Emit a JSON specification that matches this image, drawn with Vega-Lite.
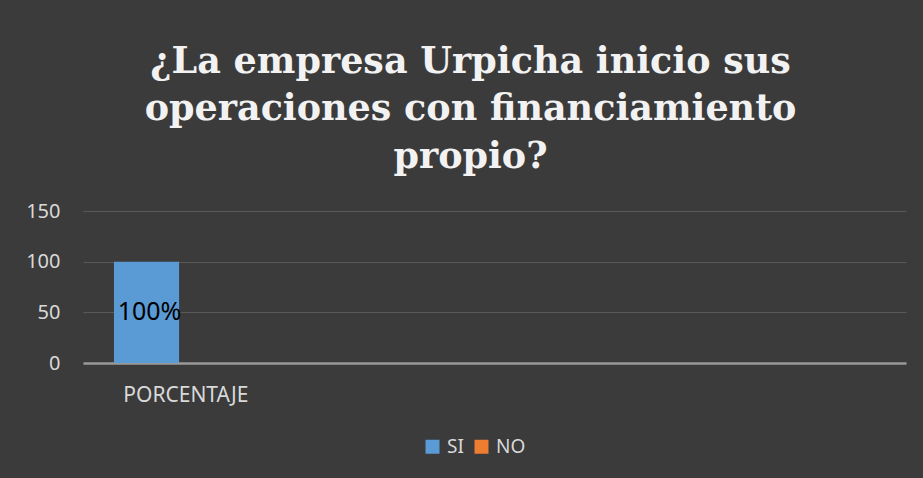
{
  "$schema": "https://vega.github.io/schema/vega-lite/v6.json",
  "width": 823,
  "height": 152,
  "autosize": "none",
  "padding": {"left": 83, "top": 211, "right": 17, "bottom": 115},
  "background": "#3b3b3b",
  "title": {
    "text": ["¿La empresa Urpicha inicio sus", "operaciones con financiamiento", "propio?"],
    "font": "DejaVu Serif",
    "fontSize": 36.5,
    "fontWeight": "bold",
    "color": "#f2f2f2",
    "lineHeight": 47.5,
    "anchor": "middle",
    "dx": -24,
    "offset": 26
  },
  "data": {
    "values": [
      {"categoria": "PORCENTAJE", "respuesta": "SI", "valor": 100, "etiqueta": "100%"},
      {"categoria": "PORCENTAJE", "respuesta": "NO", "valor": 0, "etiqueta": "0%"}
    ]
  },
  "config": {
    "view": {"stroke": null},
    "axis": {"labelFont": "Noto Sans", "labelColor": "#d9d9d9", "labelFontSize": 20, "domain": false, "ticks": false, "title": null}
  },
  "encoding": {
    "x": {
      "field": "categoria",
      "type": "nominal",
      "scale": {"domain": ["PORCENTAJE", "c2", "c3", "c4"], "paddingInner": 0, "paddingOuter": 0},
      "axis": {"labelAngle": 0, "labelPadding": 21, "labelFontSize": 21, "labelExpr": "datum.value == 'PORCENTAJE' ? datum.value : ''", "domain": true, "domainColor": "#9a9a9a", "domainWidth": 2.5, "grid": false}
    },
    "xOffset": {
      "field": "respuesta",
      "type": "nominal",
      "scale": {"domain": ["SI", "NO"], "paddingInner": 0, "paddingOuter": 0.58, "align": 0.41}
    },
    "y": {
      "field": "valor",
      "type": "quantitative",
      "scale": {"domain": [0, 150], "nice": false},
      "axis": {"values": [0, 50, 100, 150], "labelPadding": 23, "grid": true, "gridColor": "#595959", "gridWidth": 1}
    }
  },
  "layer": [
    {
      "mark": {"type": "bar"},
      "encoding": {
        "color": {
          "field": "respuesta",
          "type": "nominal",
          "scale": {"domain": ["SI", "NO"], "range": ["#5b9bd5", "#ed7d31"]},
          "legend": {
            "title": null,
            "orient": "none",
            "direction": "horizontal",
            "legendX": 340,
            "legendY": 226,
            "symbolType": "square",
            "symbolSize": 196,
            "symbolStrokeWidth": 0,
            "labelFont": "Noto Sans",
            "labelFontSize": 19,
            "labelColor": "#d9d9d9",
            "columnPadding": 8,
            "labelOffset": 5
          }
        }
      }
    },
    {
      "transform": [{"filter": "datum.valor > 0"}, {"calculate": "datum.valor / 2", "as": "centro"}],
      "mark": {"type": "text", "font": "Noto Sans", "fontSize": 25, "color": "#000000", "baseline": "middle", "align": "center", "dx": 3},
      "encoding": {
        "y": {"field": "centro", "type": "quantitative"},
        "text": {"field": "etiqueta"}
      }
    }
  ]
}
